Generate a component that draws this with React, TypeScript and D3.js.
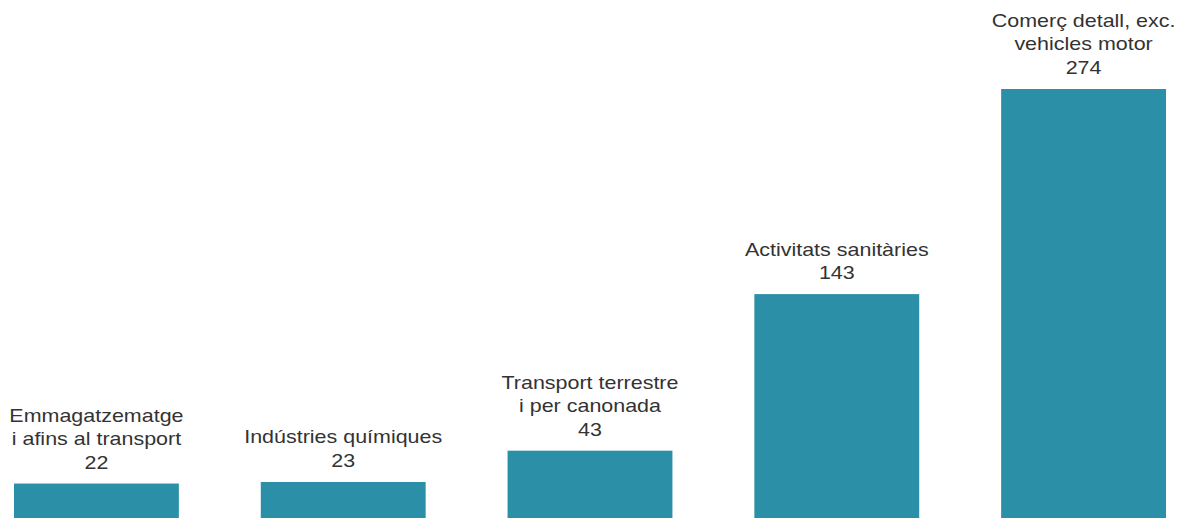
import React, { useEffect, useRef } from "react";
import * as d3 from "d3";

// chart data
const categories = [
  "Emmagatzematge\ni afins al transport",
  "Indústries químiques",
  "Transport terrestre\ni per canonada",
  "Activitats sanitàries",
  "Comerç detall, exc.\nvehicles motor",
];
const values = [22, 23, 43, 143, 274];

const W = 1180;
const H = 518;

const App = () => {
  const svgRef = useRef<SVGSVGElement>(null);

  useEffect(() => {
    const svg = d3.select(svgRef.current);
    svg.selectAll("*").remove();

    const x = d3
      .scaleBand<number>()
      .domain(d3.range(values.length))
      .range([14, 1166])
      .paddingInner(0.332)
      .paddingOuter(0);

    const y = d3.scaleLinear().domain([0, 274]).range([H, 89]);

    const g = svg.append("g");

    // bars
    g.selectAll(".bar")
      .data(values)
      .enter()
      .append("rect")
      .attr("class", "bar")
      .attr("x", (_d, i) => x(i)!)
      .attr("width", x.bandwidth())
      .attr("y", (d) => y(d))
      .attr("height", (d) => H - y(d))
      .attr("fill", "#2b90a7");

    // labels: category lines + value, stacked above each bar
    // (the original text is a bit wider than Arial, so stretch it horizontally)
    const lineH = 23.5;
    values.forEach((v, i) => {
      const cx = x(i)! + x.bandwidth() / 2;
      const lines = [...categories[i].split("\n"), String(v)];
      const base = y(v) - 15;
      const t = g
        .append("text")
        .attr("transform", `translate(${cx},0) scale(1.13,1)`)
        .attr("text-anchor", "middle")
        .style("font-family", "'Liberation Sans', Arial, sans-serif")
        .style("font-size", "19px")
        .style("fill", "#333");
      lines.forEach((line, j) => {
        t.append("tspan")
          .attr("x", 0)
          .attr("y", base - (lines.length - 1 - j) * lineH)
          .text(line);
      });
    });
  }, []);

  return (
    <div style={{ position: "fixed", left: 0, top: 0, width: W, height: H, background: "#fff" }}>
      <svg ref={svgRef} width={W} height={H} style={{ display: "block" }}></svg>
    </div>
  );
};

export default App;
